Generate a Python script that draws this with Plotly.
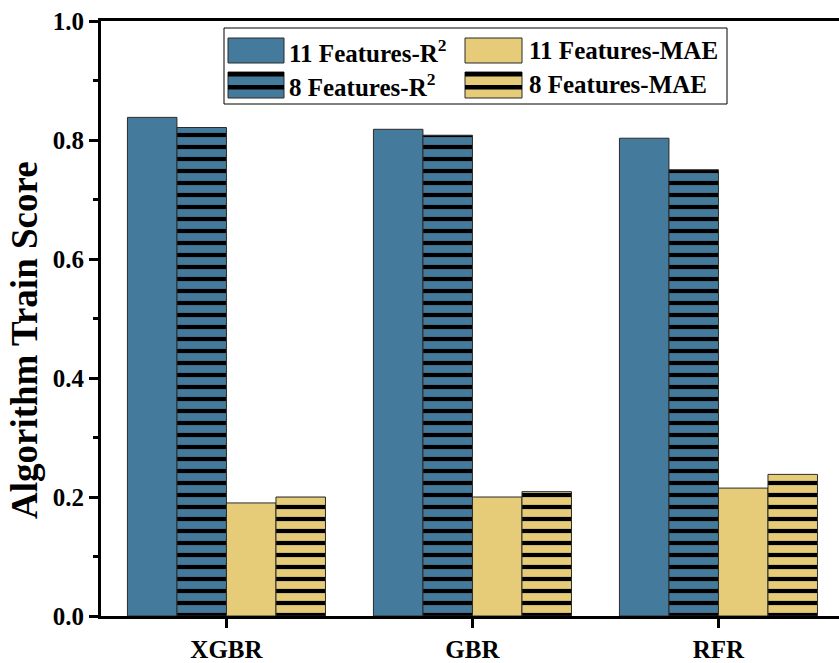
import plotly.graph_objects as go

# ---- data -------------------------------------------------------------
algorithms = ["XGBR", "GBR", "RFR"]
r2_11 = [0.838, 0.818, 0.803]
r2_8 = [0.821, 0.808, 0.750]
mae_11 = [0.190, 0.200, 0.215]
mae_8 = [0.200, 0.209, 0.238]
y_ticks = [0.0, 0.2, 0.4, 0.6, 0.8, 1.0]

BLUE = "#447A9B"
GOLD = "#E6CB79"
EDGE = "#2b2b2b"
FONT = "Liberation Serif"

# plot-area pixel frame used for placing the hand-drawn legend
PL, PR, PT, PB = 101, 839, 21, 616


def px(x):
    return (x - PL) / (PR - PL)


def py(y):
    return (PB - y) / (PB - PT)


def bar(name, values, color, striped):
    marker = dict(color=color, line=dict(color=EDGE, width=1))
    if striped:
        marker["pattern"] = dict(shape="-", fgcolor="black", fgopacity=1,
                                 size=12, solidity=0.35, fillmode="overlay")
    return go.Bar(name=name, x=algorithms, y=values, marker=marker,
                  showlegend=False)


fig = go.Figure([
    bar("11 Features-R²", r2_11, BLUE, False),
    bar("8 Features-R²", r2_8, BLUE, True),
    bar("11 Features-MAE", mae_11, GOLD, False),
    bar("8 Features-MAE", mae_8, GOLD, True),
])

# ---- legend box drawn with shapes and text -----------------------------
shapes = [dict(type="rect", xref="paper", yref="paper",
               x0=px(224), x1=px(727), y0=py(104), y1=py(28),
               line=dict(color="black", width=1), fillcolor="white",
               layer="above")]
annotations = []
entries = [
    ("11 Features-R<sup>2</sup>", BLUE, False, 228, 287, 38, 63),
    ("11 Features-MAE", GOLD, False, 465, 527, 38, 63),
    ("8 Features-R<sup>2</sup>", BLUE, True, 228, 287, 72, 98),
    ("8 Features-MAE", GOLD, True, 465, 527, 72, 98),
]
for label, color, striped, sx, tx, top, bot in entries:
    sw = 56 if sx == 228 else 57
    shapes.append(dict(type="rect", xref="paper", yref="paper",
                       x0=px(sx), x1=px(sx + sw), y0=py(bot), y1=py(top),
                       fillcolor=color, line=dict(color=EDGE, width=1),
                       layer="above"))
    if striped:
        for s0, s1 in ((top, top + 4.5), (top + 13, top + 17.5)):
            shapes.append(dict(type="rect", xref="paper", yref="paper",
                               x0=px(sx), x1=px(sx + sw), y0=py(s1), y1=py(s0),
                               fillcolor="black", line=dict(width=0),
                               layer="above"))
    annotations.append(dict(text="<b>" + label + "</b>", xref="paper", yref="paper",
                            x=px(tx), y=py((top + bot) / 2),
                            xanchor="left", yanchor="middle", showarrow=False,
                            font=dict(family=FONT, size=25, color="black")))

# y-axis title
annotations.append(dict(text="<b>Algorithm Train Score</b>", xref="paper", yref="paper",
                        x=px(24), y=py(340), textangle=-90,
                        xanchor="center", yanchor="middle", showarrow=False,
                        font=dict(family=FONT, size=37, color="black")))

tick_font = dict(family=FONT, size=25, color="black", weight="bold")

fig.update_layout(
    width=839, height=663,
    margin=dict(l=PL, r=839 - PR, t=PT, b=663 - PB),
    paper_bgcolor="white", plot_bgcolor="white",
    barmode="group", bargap=0.195, bargroupgap=0,
    shapes=shapes, annotations=annotations,
    xaxis=dict(range=[-0.51, 2.49], showline=True, linecolor="black",
               linewidth=3, mirror=True, ticks="outside", ticklen=9,
               tickwidth=3, tickcolor="black", tickfont=tick_font,
               showgrid=False, zeroline=False),
    yaxis=dict(range=[0, 1], tickvals=y_ticks,
               ticktext=[f"{v:.1f}" for v in y_ticks],
               showline=True, linecolor="black", linewidth=3,
               ticks="outside", ticklen=9, tickwidth=3, tickcolor="black",
               tickfont=tick_font, showgrid=False, zeroline=False,
               minor=dict(dtick=0.1, ticks="outside", ticklen=5,
                          tickwidth=3, tickcolor="black")),
)

fig.write_html("out.html")
